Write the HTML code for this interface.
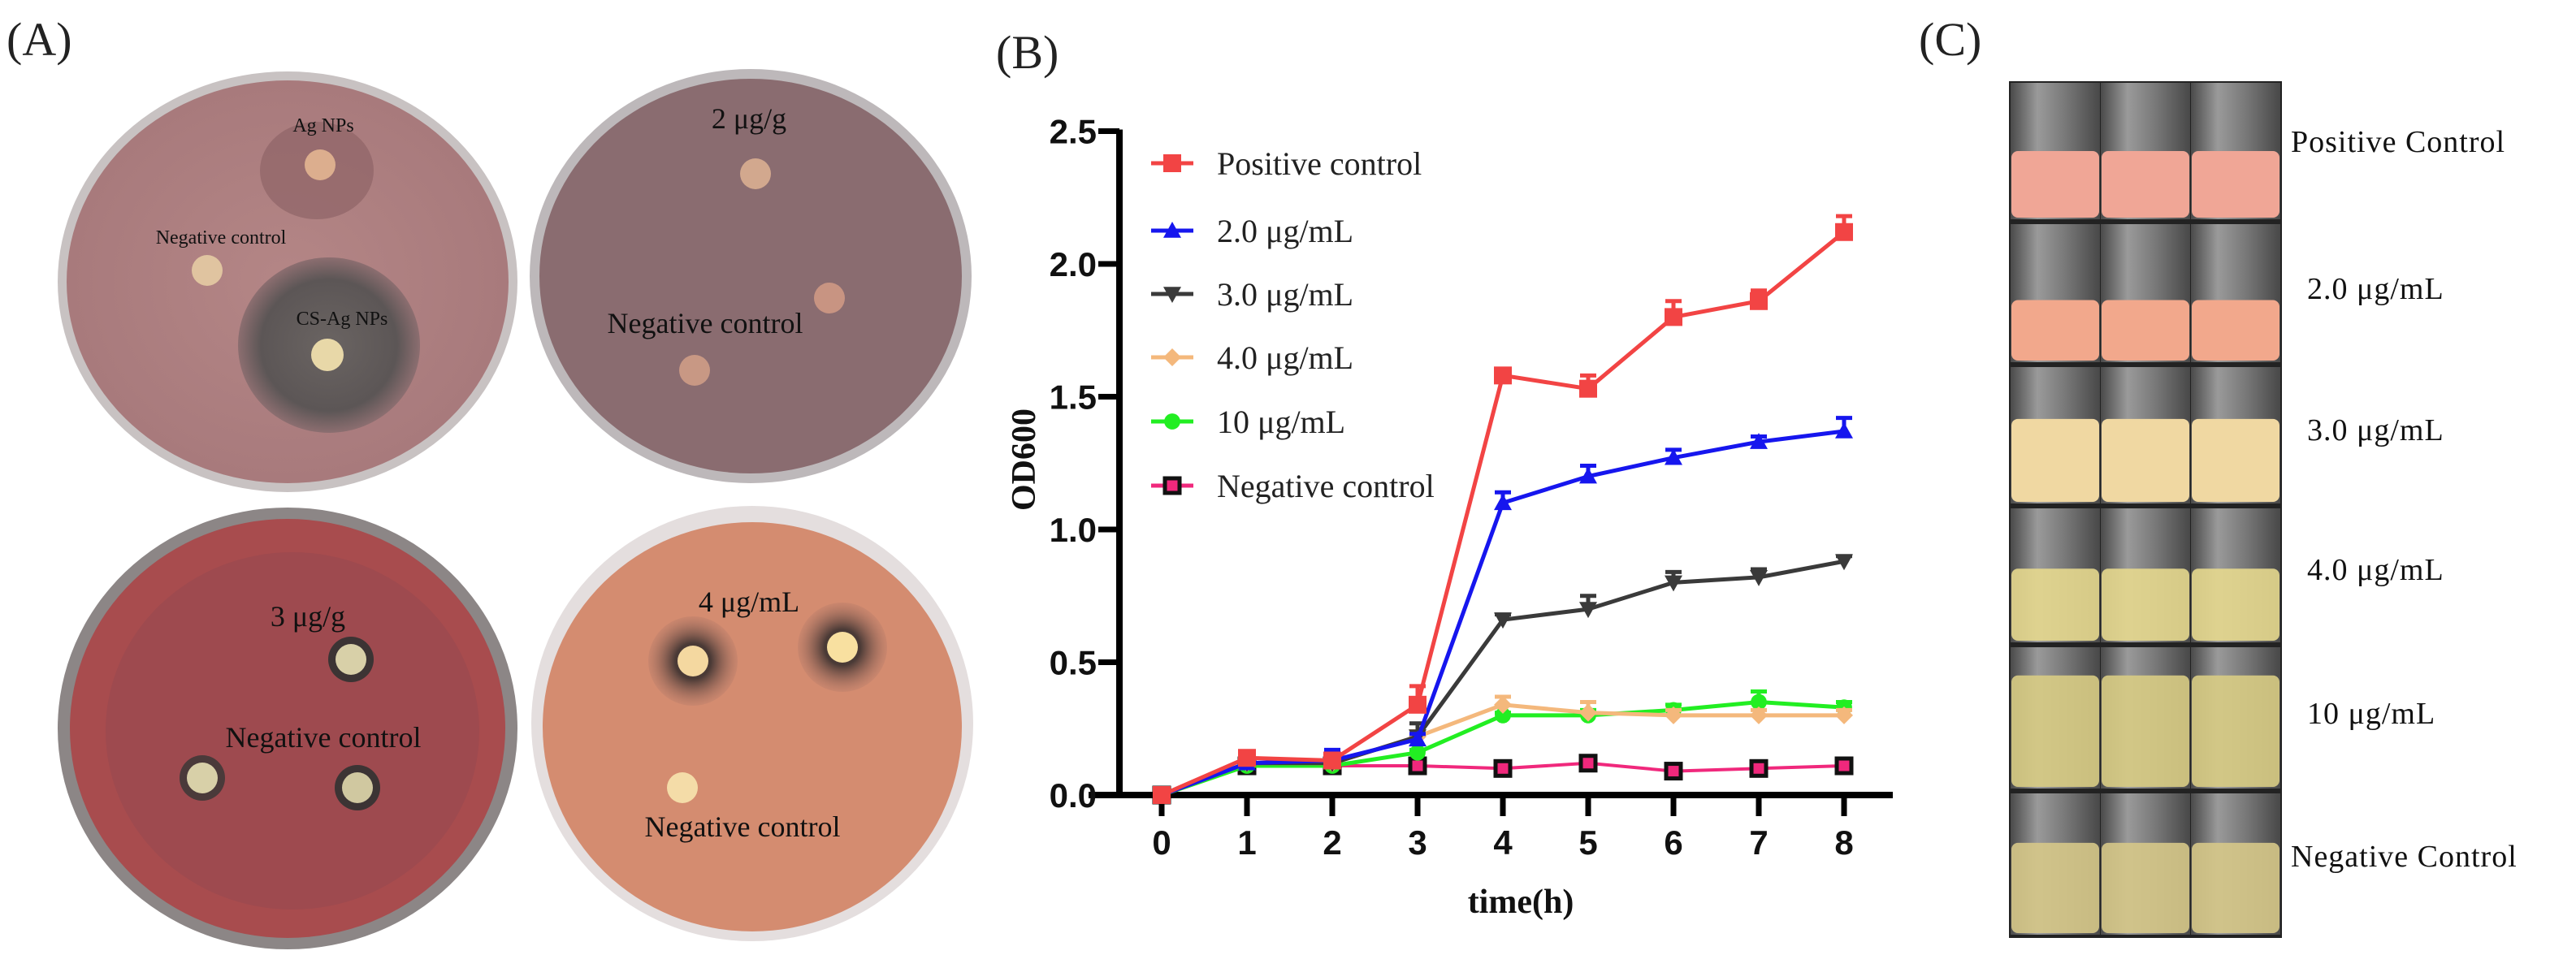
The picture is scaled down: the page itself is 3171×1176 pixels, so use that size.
<!DOCTYPE html>
<html><head><meta charset="utf-8"><style>
html,body{margin:0;padding:0;background:#fff;}
#root{position:relative;width:3171px;height:1176px;overflow:hidden;font-family:"Liberation Serif",serif;}
svg{position:absolute;left:0;top:0;}
</style></head><body>
<div id="root">
<svg width="3171" height="1176" viewBox="0 0 3171 1176">
<defs>
<radialGradient id="gTL" cx="50%" cy="50%" r="50%"><stop offset="0" stop-color="#b48686"/><stop offset="1" stop-color="#a87a7c"/></radialGradient>
<radialGradient id="zone" cx="50%" cy="50%" r="50%"><stop offset="0" stop-color="#6a6462"/><stop offset="0.75" stop-color="#5c5656"/><stop offset="1" stop-color="#8c6e70"/></radialGradient>
<radialGradient id="ring" cx="50%" cy="50%" r="50%"><stop offset="0.4" stop-color="#4a3a36"/><stop offset="1" stop-color="#b07868" stop-opacity="0.3"/></radialGradient>
<linearGradient id="glass" x1="0" y1="0" x2="1" y2="0"><stop offset="0" stop-color="#4a4a4a"/><stop offset="0.3" stop-color="#9a9a9a"/><stop offset="0.6" stop-color="#7a7a7a"/><stop offset="1" stop-color="#484848"/></linearGradient>
</defs>

<!-- Panel A -->
<text x="8" y="68" font-size="58" fill="#222">(A)</text>
<g>
<ellipse cx="354" cy="347" rx="283" ry="259" fill="#c8c2c2"/>
<ellipse cx="354" cy="347" rx="272" ry="248" fill="url(#gTL)"/>
<ellipse cx="390" cy="210" rx="70" ry="60" fill="#8e6466" opacity="0.7"/>
<ellipse cx="405" cy="425" rx="112" ry="108" fill="url(#zone)"/>
<circle cx="394" cy="203" r="19" fill="#dcae8e"/>
<circle cx="255" cy="333" r="19" fill="#e0c4a0"/>
<circle cx="403" cy="437" r="20" fill="#e8d8a8"/>
<text x="398" y="162" font-size="24" text-anchor="middle" fill="#111">Ag NPs</text>
<text x="272" y="300" font-size="24" text-anchor="middle" fill="#111">Negative control</text>
<text x="421" y="400" font-size="24" text-anchor="middle" fill="#111">CS-Ag NPs</text>
</g>
<g>
<ellipse cx="924" cy="340" rx="272" ry="255" fill="#bdb8ba"/>
<ellipse cx="924" cy="340" rx="260" ry="243" fill="#8a6c70"/>
<circle cx="930" cy="214" r="19" fill="#d2a88e"/>
<circle cx="1021" cy="367" r="19" fill="#c89482"/>
<circle cx="855" cy="456" r="19" fill="#c89884"/>
<text x="922" y="158" font-size="36" text-anchor="middle" fill="#111">2 μg/g</text>
<text x="868" y="410" font-size="36" text-anchor="middle" fill="#111">Negative  control</text>
</g>
<g>
<ellipse cx="354" cy="897" rx="283" ry="272" fill="#8c8686"/>
<ellipse cx="354" cy="897" rx="268" ry="258" fill="#a84c4e"/>
<ellipse cx="360" cy="900" rx="230" ry="220" fill="#9a4a50" opacity="0.7"/>
<circle cx="432" cy="812" r="28" fill="#3c3434"/>
<circle cx="249" cy="958" r="28" fill="#4a3a3a"/>
<circle cx="440" cy="970" r="28" fill="#3c3434"/>
<circle cx="432" cy="812" r="19" fill="#d8d0a8"/>
<circle cx="249" cy="958" r="19" fill="#d8d0a8"/>
<circle cx="440" cy="970" r="19" fill="#d0c8a0"/>
<text x="379" y="771" font-size="36" text-anchor="middle" fill="#111">3  μg/g</text>
<text x="398" y="920" font-size="36" text-anchor="middle" fill="#111">Negative  control</text>
</g>
<g>
<ellipse cx="926" cy="891" rx="272" ry="268" fill="#e4dede"/>
<ellipse cx="926" cy="895" rx="258" ry="252" fill="#d48c70"/>
<circle cx="853" cy="814" r="55" fill="url(#ring)"/>
<circle cx="1037" cy="797" r="55" fill="url(#ring)"/>
<circle cx="853" cy="814" r="19" fill="#f4d8a0"/>
<circle cx="1037" cy="797" r="19" fill="#f8e0a0"/>
<circle cx="840" cy="970" r="19" fill="#f4dca8"/>
<text x="922" y="753" font-size="36" text-anchor="middle" fill="#111">4 μg/mL</text>
<text x="914" y="1030" font-size="36" text-anchor="middle" fill="#111">Negative control</text>
</g>

<!-- Panel B -->
<text x="1226" y="84" font-size="58" fill="#222">(B)</text>
<g id="chart"></g>

<!-- Panel C -->
<text x="2362" y="68" font-size="58" fill="#222">(C)</text>
<g id="tubes"></g>
</svg>
</div>
<script>
const times = [0,1,2,3,4,5,6,7,8];
const yTicks = [0.0,0.5,1.0,1.5,2.0,2.5];
const yTickLabels = ["0.0","0.5","1.0","1.5","2.0","2.5"];
const seriesNames = ["Positive control","2.0 μg/mL","3.0 μg/mL","4.0 μg/mL","10 μg/mL","Negative control"];
const posCtrl = [0,0.14,0.13,0.34,1.58,1.53,1.80,1.86,2.12];
const posErr = [0.01,0.02,0.02,0.07,0.02,0.05,0.06,0.04,0.06];
const s20 = [0,0.12,0.13,0.21,1.10,1.20,1.27,1.33,1.37];
const s20Err = [0.01,0.01,0.04,0.02,0.04,0.04,0.03,0.02,0.05];
const s30 = [0,0.12,0.12,0.22,0.66,0.70,0.80,0.82,0.88];
const s30Err = [0.01,0.01,0.01,0.05,0.02,0.05,0.04,0.03,0.02];
const s40 = [0,0.12,0.12,0.22,0.34,0.31,0.30,0.30,0.30];
const s40Err = [0.01,0.01,0.01,0.02,0.03,0.04,0.02,0.02,0.02];
const s10 = [0,0.11,0.11,0.16,0.30,0.30,0.32,0.35,0.33];
const s10Err = [0.01,0.01,0.01,0.01,0.01,0.02,0.02,0.04,0.02];
const negCtrl = [0,0.11,0.11,0.11,0.10,0.12,0.09,0.10,0.11];
const negErr = [0.01,0.01,0.01,0.01,0.01,0.01,0.01,0.01,0.01];

const NS="http://www.w3.org/2000/svg";
const X0=1430, XS=105, Y0=979, YS=327;
function xp(t){return X0+t*XS;}
function yp(v){return Y0-v*YS;}
function mk(tag,attrs,parent){const e=document.createElementNS(NS,tag);for(const k in attrs)e.setAttribute(k,attrs[k]);parent.appendChild(e);return e;}
const chart=document.getElementById('chart');

const yax=mk('line',{x1:1378,y1:yp(2.5)-2,x2:1378,y2:Y0+4,stroke:'#000','stroke-width':8},chart);


const xax=mk('line',{x1:1340,y1:Y0,x2:2330,y2:Y0,stroke:'#000','stroke-width':8},chart);


yTicks.forEach((v,i)=>{
  mk('line',{x1:1352,y1:yp(v),x2:1378,y2:yp(v),stroke:'#000','stroke-width':7},chart);
  const t=mk('text',{x:1350,y:yp(v)+15,'font-size':42,'font-weight':'bold','font-family':'Liberation Sans, sans-serif','text-anchor':'end',fill:'#111'},chart);
  t.textContent=yTickLabels[i];
  
  
});
times.forEach(tt=>{
  mk('line',{x1:xp(tt),y1:Y0,x2:xp(tt),y2:Y0+26,stroke:'#000','stroke-width':7},chart);
  const t=mk('text',{x:xp(tt),y:Y0+73,'font-size':42,'font-weight':'bold','font-family':'Liberation Sans, sans-serif','text-anchor':'middle',fill:'#111'},chart);
  t.textContent=String(tt);
  
  
});
const yt=mk('text',{x:0,y:0,'font-size':42,'font-weight':'bold','text-anchor':'middle',fill:'#111',transform:'translate(1274,566) rotate(-90)'},chart);
yt.textContent='OD600';


const xt=mk('text',{x:1872,y:1124,'font-size':42,'font-weight':'bold','text-anchor':'middle',fill:'#111'},chart);
xt.textContent='time(h)';



function marker(shape,x,y,color,g){
  const s=11;
  if(shape==='sq') mk('rect',{x:x-s,y:y-s,width:2*s,height:2*s,fill:color},g);
  else if(shape==='tri') mk('polygon',{points:`${x},${y-s} ${x+s},${y+s*0.8} ${x-s},${y+s*0.8}`,fill:color},g);
  else if(shape==='itri') mk('polygon',{points:`${x},${y+s} ${x+s},${y-s*0.8} ${x-s},${y-s*0.8}`,fill:color},g);
  else if(shape==='dia') mk('polygon',{points:`${x},${y-s} ${x+s},${y} ${x},${y+s} ${x-s},${y}`,fill:color},g);
  else if(shape==='cir') mk('circle',{cx:x,cy:y,r:s*0.9,fill:color},g);
  else if(shape==='osq') mk('rect',{x:x-9,y:y-9,width:18,height:18,fill:color,stroke:'#111','stroke-width':5},g);
}
const series=[
 {vals:negCtrl,err:negErr,color:'#f0287c',shape:'osq',w:4,key:'negative-control'},
 {vals:s10,err:s10Err,color:'#22ee22',shape:'cir',w:5,key:'10-ugml'},
 {vals:s40,err:s40Err,color:'#f4b87c',shape:'dia',w:5,key:'4-ugml'},
 {vals:s30,err:s30Err,color:'#3a3a3a',shape:'itri',w:5,key:'3-ugml'},
 {vals:s20,err:s20Err,color:'#1616ee',shape:'tri',w:5,key:'2-ugml'},
 {vals:posCtrl,err:posErr,color:'#f24444',shape:'sq',w:5,key:'positive-control'}
];
series.forEach(s=>{
  const g=mk('g',{},chart);
  
  
  const pts=s.vals.map((v,i)=>xp(times[i])+','+yp(v)).join(' ');
  mk('polyline',{points:pts,fill:'none',stroke:s.color,'stroke-width':s.w,'stroke-linejoin':'round'},g);
  s.vals.forEach((v,i)=>{
    const x=xp(times[i]),y=yp(v),ye=yp(v+s.err[i]);
    mk('line',{x1:x,y1:y,x2:x,y2:ye,stroke:s.color,'stroke-width':5},g);
    mk('line',{x1:x-10,y1:ye,x2:x+10,y2:ye,stroke:s.color,'stroke-width':5},g);
    marker(s.shape,x,y,s.color,g);
  });
});
const legRows=[201,284,362,440,519,598];
const legOrder=[5,4,3,2,1,0];
legOrder.forEach((si,r)=>{
  const s=series[si], y=legRows[r];
  const g=mk('g',{},chart);
  
  
  mk('line',{x1:1417,y1:y,x2:1469,y2:y,stroke:s.color,'stroke-width':5},g);
  marker(s.shape,1443,y,s.color,g);
  const t=mk('text',{x:1498,y:y+14,'font-size':40,fill:'#222'},g);
  t.textContent=seriesNames[r];
});

// Panel C tubes
const tubes=document.getElementById('tubes');
const rowB=[100,274,450,624,795,975,1155];
const liquidTop=[0.5,0.55,0.38,0.45,0.2,0.35];
const liquid=['#f0a696','#f2a88c','#f0d8a2','#e6d88e','#d8cc84','#d6c888'];
const labels=['Positive Control','2.0 μg/mL','3.0 μg/mL','4.0 μg/mL','10 μg/mL','Negative Control'];
const labelY=[174,355,529,701,878,1054];
mk('rect',{x:2473,y:100,width:336,height:1055,fill:'#222'},tubes);
for(let r=0;r<6;r++){
  const y0=rowB[r]+2,h=rowB[r+1]-rowB[r]-6;
  for(let c=0;c<3;c++){
    const x=2475+c*111,w=110;
    mk('rect',{x:x,y:y0,width:w,height:h,fill:'url(#glass)'},tubes);
    const ly=y0+h*liquidTop[r];
    mk('rect',{x:x+1,y:ly,width:w-2,height:y0+h-ly-2,rx:8,fill:liquid[r],opacity:r>=3?0.9:1},tubes);
  }
  const t=mk('text',{x:r===0||r===5?2820:2840,y:labelY[r]+13,'font-size':38,'letter-spacing':1,fill:'#111'},tubes);
  t.textContent=labels[r];
  
  
}
</script>
</body></html>
